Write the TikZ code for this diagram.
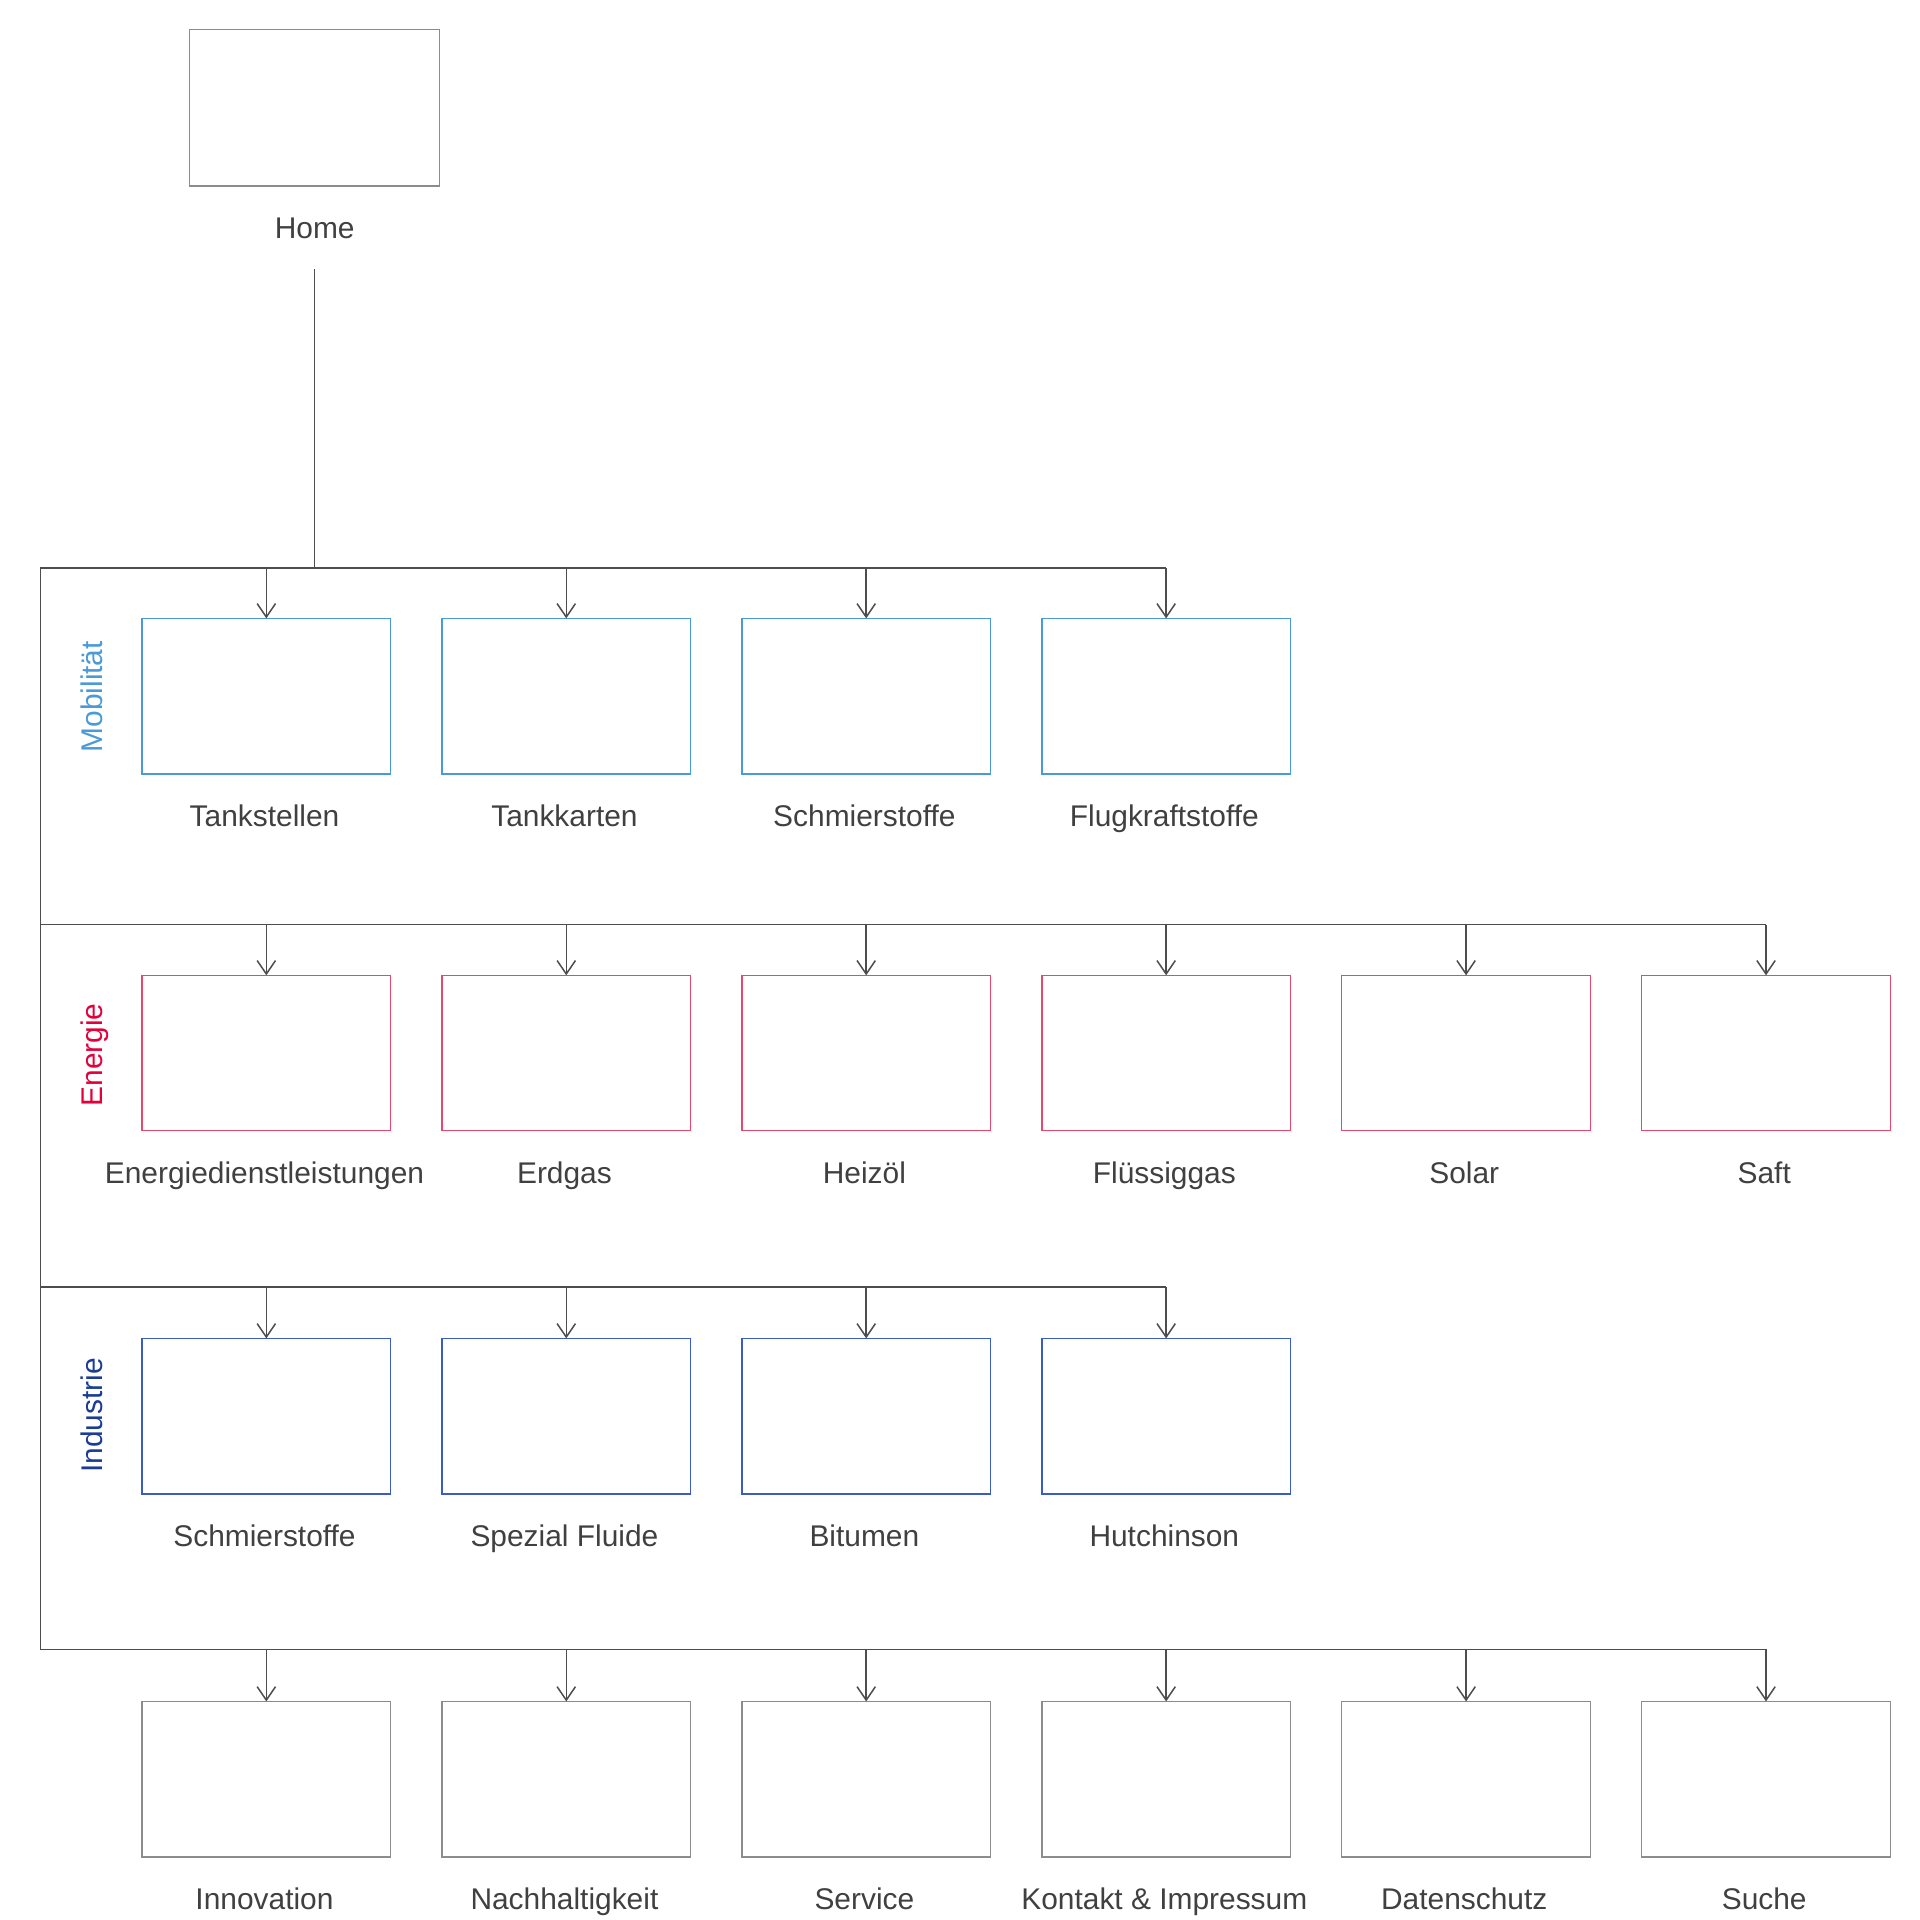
\documentclass[tikz,border=0pt]{standalone}
\usepackage{fontspec}
\setmainfont{Liberation Sans}
\usetikzlibrary{positioning,arrows.meta}

\definecolor{mobil}{HTML}{4A9AD8}
\definecolor{energie}{HTML}{E4003A}
\definecolor{energieline}{HTML}{E8486C}
\definecolor{industrie}{HTML}{1A3C94}
\definecolor{industrieline}{HTML}{3A5EBE}
\definecolor{pageline}{HTML}{8C8C8C}
\definecolor{linegray}{HTML}{4D4D4D}
\definecolor{textgray}{HTML}{404040}

\tikzset{
	page/.style={draw=pageline, line width=0.6pt, outer sep=0pt, inner sep=0pt, minimum width=4.06cm, minimum height=2.54cm},
	mpage/.style={page, draw=mobil},
	epage/.style={page, draw=energieline},
	ipage/.style={page, draw=industrieline},
	title/.style={anchor=base, inner sep=0pt, text=textgray, font=\fontsize{13.9}{16}\selectfont},
	side/.style={anchor=base, inner sep=0pt, rotate=90, font=\fontsize{13.9}{16}\selectfont},
	link/.style={draw=linegray, line width=0.7pt},
	pointer/.style={link, -{Straight Barb[length=0.22cm, width=0.3cm]}}
}

\begin{document}
\begin{tikzpicture}[x=0.02cm, y=-0.02cm]
		\useasboundingbox (0,0) rectangle (1568,1568);
		% home
		\node[page, minimum width=4.08cm, minimum height=2.56cm] (home) at (257,88) {};
		\node[title] (homeT) at ([yshift=-0.86cm]home.south) {Home};
		% rows of pages
		\node[mpage] (tankstellen) at (217.5,568.5) {};
		\node[mpage, right=0.84cm of tankstellen] (tankkarten) {};
		\node[mpage, right=0.84cm of tankkarten] (schmierstoffeM) {};
		\node[mpage, right=0.84cm of schmierstoffeM] (flugkraftstoffe) {};
		\node[epage] (energiedienst) at (217.5,860) {};
		\node[epage, right=0.84cm of energiedienst] (erdgas) {};
		\node[epage, right=0.84cm of erdgas] (heizoel) {};
		\node[epage, right=0.84cm of heizoel] (fluessiggas) {};
		\node[epage, right=0.84cm of fluessiggas] (solar) {};
		\node[epage, right=0.84cm of solar] (saft) {};
		\node[ipage] (schmierstoffeI) at (217.5,1156.5) {};
		\node[ipage, right=0.84cm of schmierstoffeI] (fluide) {};
		\node[ipage, right=0.84cm of fluide] (bitumen) {};
		\node[ipage, right=0.84cm of bitumen] (hutchinson) {};
		\node[page] (innovation) at (217.5,1453) {};
		\node[page, right=0.84cm of innovation] (nachhaltigkeit) {};
		\node[page, right=0.84cm of nachhaltigkeit] (service) {};
		\node[page, right=0.84cm of service] (kontakt) {};
		\node[page, right=0.84cm of kontakt] (datenschutz) {};
		\node[page, right=0.84cm of datenschutz] (suche) {};
		% page titles
		\node[title] (tankstellenT) at ([xshift=-0.03cm,yshift=-0.86cm]tankstellen.south) {Tankstellen};
		\node[title] (tankkartenT) at ([xshift=-0.03cm,yshift=-0.86cm]tankkarten.south) {Tankkarten};
		\node[title] (schmierstoffeMT) at ([xshift=-0.03cm,yshift=-0.86cm]schmierstoffeM.south) {Schmierstoffe};
		\node[title] (flugkraftstoffeT) at ([xshift=-0.03cm,yshift=-0.86cm]flugkraftstoffe.south) {Flugkraftstoffe};
		\node[title] (energiedienstT) at ([xshift=-0.03cm,yshift=-0.86cm]energiedienst.south) {Energiedienstleistungen};
		\node[title] (erdgasT) at ([xshift=-0.03cm,yshift=-0.86cm]erdgas.south) {Erdgas};
		\node[title] (heizoelT) at ([xshift=-0.03cm,yshift=-0.86cm]heizoel.south) {Heizöl};
		\node[title] (fluessiggasT) at ([xshift=-0.03cm,yshift=-0.86cm]fluessiggas.south) {Flüssiggas};
		\node[title] (solarT) at ([xshift=-0.03cm,yshift=-0.86cm]solar.south) {Solar};
		\node[title] (saftT) at ([xshift=-0.03cm,yshift=-0.86cm]saft.south) {Saft};
		\node[title] (schmierstoffeIT) at ([xshift=-0.03cm,yshift=-0.86cm]schmierstoffeI.south) {Schmierstoffe};
		\node[title] (fluideT) at ([xshift=-0.03cm,yshift=-0.86cm]fluide.south) {Spezial Fluide};
		\node[title] (bitumenT) at ([xshift=-0.03cm,yshift=-0.86cm]bitumen.south) {Bitumen};
		\node[title] (hutchinsonT) at ([xshift=-0.03cm,yshift=-0.86cm]hutchinson.south) {Hutchinson};
		\node[title] (innovationT) at ([xshift=-0.03cm,yshift=-0.86cm]innovation.south) {Innovation};
		\node[title] (nachhaltigkeitT) at ([xshift=-0.03cm,yshift=-0.86cm]nachhaltigkeit.south) {Nachhaltigkeit};
		\node[title] (serviceT) at ([xshift=-0.03cm,yshift=-0.86cm]service.south) {Service};
		\node[title] (kontaktT) at ([xshift=-0.03cm,yshift=-0.86cm]kontakt.south) {Kontakt \& Impressum};
		\node[title] (datenschutzT) at ([xshift=-0.03cm,yshift=-0.86cm]datenschutz.south) {Datenschutz};
		\node[title] (sucheT) at ([xshift=-0.03cm,yshift=-0.86cm]suche.south) {Suche};
		% sections
		\node[side, text=mobil] (mobilitaet) at (83.5,569) {Mobilität};
		\node[side, text=energie] (energieS) at (83.5,861.5) {Energie};
		\node[side, text=industrie] (industrieS) at (83.5,1156) {Industrie};
		% buses
		\coordinate (trunk) at (257,220);
		\coordinate (bus1) at (33,464);
		\coordinate (bus2) at (33,755);
		\coordinate (bus3) at (33,1051);
		\coordinate (bus4) at (33,1347);
		\draw[link] (trunk) -- (trunk |- bus1);
		\draw[link] (bus1) -- (bus4);
		\draw[link] (bus1) -- (bus1 -| flugkraftstoffe.north);
		\draw[link] (bus2) -- (bus2 -| saft.north);
		\draw[link] (bus3) -- (bus3 -| hutchinson.north);
		\draw[link] (bus4) -- (bus4 -| suche.north);
		% arrows
		\draw[pointer] (bus1 -| tankstellen.north) -- (tankstellen.north);
		\draw[pointer] (bus1 -| tankkarten.north) -- (tankkarten.north);
		\draw[pointer] (bus1 -| schmierstoffeM.north) -- (schmierstoffeM.north);
		\draw[pointer] (bus1 -| flugkraftstoffe.north) -- (flugkraftstoffe.north);
		\draw[pointer] (bus2 -| energiedienst.north) -- (energiedienst.north);
		\draw[pointer] (bus2 -| erdgas.north) -- (erdgas.north);
		\draw[pointer] (bus2 -| heizoel.north) -- (heizoel.north);
		\draw[pointer] (bus2 -| fluessiggas.north) -- (fluessiggas.north);
		\draw[pointer] (bus2 -| solar.north) -- (solar.north);
		\draw[pointer] (bus2 -| saft.north) -- (saft.north);
		\draw[pointer] (bus3 -| schmierstoffeI.north) -- (schmierstoffeI.north);
		\draw[pointer] (bus3 -| fluide.north) -- (fluide.north);
		\draw[pointer] (bus3 -| bitumen.north) -- (bitumen.north);
		\draw[pointer] (bus3 -| hutchinson.north) -- (hutchinson.north);
		\draw[pointer] (bus4 -| innovation.north) -- (innovation.north);
		\draw[pointer] (bus4 -| nachhaltigkeit.north) -- (nachhaltigkeit.north);
		\draw[pointer] (bus4 -| service.north) -- (service.north);
		\draw[pointer] (bus4 -| kontakt.north) -- (kontakt.north);
		\draw[pointer] (bus4 -| datenschutz.north) -- (datenschutz.north);
		\draw[pointer] (bus4 -| suche.north) -- (suche.north);
	\end{tikzpicture}
\end{document}
